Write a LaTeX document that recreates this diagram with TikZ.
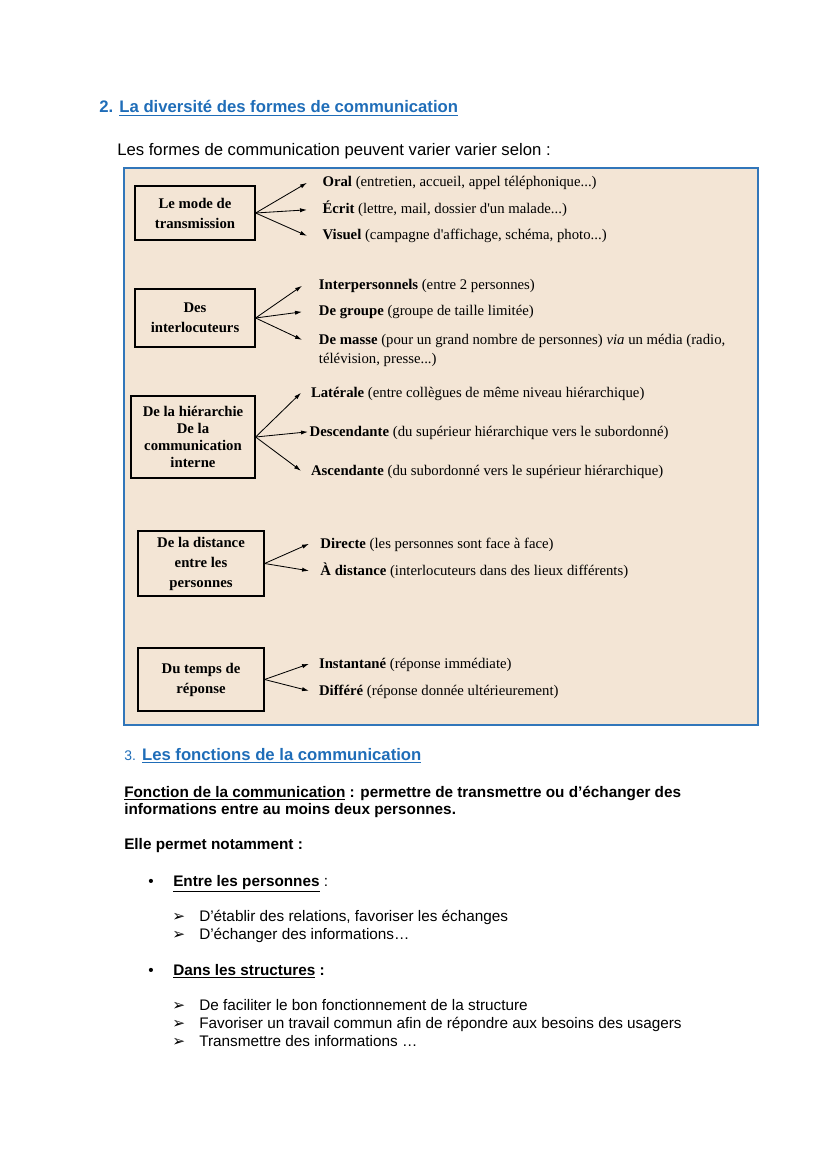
\documentclass[tikz,border=0pt]{standalone}
\usepackage{fontspec}
\setmainfont{Liberation Sans}
\newfontfamily\tnr{Liberation Serif}
\newfontfamily\dejavu{DejaVu Sans}
\usepackage{tikz}
\usetikzlibrary{arrows.meta,positioning}
\definecolor{titleblue}{HTML}{1F6DB8}
\definecolor{frameblue}{HTML}{3176BA}
\definecolor{paper}{HTML}{F3E5D5}

\begin{document}
\begin{tikzpicture}[
    % GLOBAL CFG
    x=0.7186pt, y=-0.7186pt,
    font=\fontsize{11}{13}\selectfont,
    >={Latex[length=5pt,width=3pt]},
    % Styles
    frame/.style={% For the big beige frame
        draw=frameblue,
        line width=1.4pt,
        fill=paper,
        },
    catbox/.style={% For the boxes on the left
        rectangle,
        draw,
        line width=0.9pt,
        align=center,
        inner sep=2pt,
        font=\tnr\bfseries\fontsize{10.6}{14.4}\selectfont,
        },
    item/.style={% For the texts on the right of the arrows
        anchor=base west,
        inner ysep=0pt,
        inner xsep=#1,
        font=\tnr\fontsize{10.6}{13.7}\selectfont,
        },
    body/.style={% For the text of the page
        anchor=base west,
        inner sep=0pt,
        },
    heading/.style={% For the blue titles
        anchor=base west,
        inner sep=0pt,
        text=titleblue,
        font=\bfseries\fontsize{12}{14}\selectfont,
        },
    ArrowC1/.style={% Arrows of the scheme
        ->,
        line width=0.6pt,
        },
    ]

    \useasboundingbox (0,0) rectangle (828,1171);

%Start drawing the thing...
    % Section 2
    \node[heading] (h2) at (99,113) {2. \underline{La diversité des formes de communication}};
    \node[body, font=\fontsize{12}{14}\selectfont] (intro) at (117,156) {Les formes de communication peuvent varier varier selon :};

    % The frame
    \draw[frame] (124,168) rectangle (758,725);

    % Left boxes
    \node[catbox, minimum width=86.2pt, minimum height=38.8pt] (mode) at (195,213) {Le mode de\\transmission};
    \node[catbox, minimum width=86.2pt, minimum height=41.7pt] (inter) at (195,318) {Des\\interlocuteurs};
    \node[catbox, minimum width=89.1pt, minimum height=58.9pt, font=\tnr\bfseries\fontsize{10.6}{12.2}\selectfont] (hier) at (193,437) {De la hiérarchie\\De la\\communication\\interne};
    \node[catbox, minimum width=90.5pt, minimum height=46.7pt] (dist) at (201,563.5) {De la distance\\entre les\\personnes};
    \node[catbox, minimum width=90.5pt, minimum height=45.3pt] (temps) at (201,679.5) {Du temps de\\réponse};

    % Items
    \node[item=11pt] (oral) at (307,187) {\textbf{Oral} (entretien, accueil, appel téléphonique...)};
    \node[item=11pt] (ecrit) at (307,214) {\textbf{Écrit} (lettre, mail, dossier d'un malade...)};
    \node[item=11pt] (visuel) at (307,240) {\textbf{Visuel} (campagne d'affichage, schéma, photo...)};

    \node[item=12pt] (ipers) at (302,290) {\textbf{Interpersonnels} (entre 2 personnes)};
    \node[item=12pt] (groupe) at (302,316) {\textbf{De groupe} (groupe de taille limitée)};
    \node[item=12pt] (masse) at (302,344) {\textbf{De masse} (pour un grand nombre de personnes) \textit{via} un média (radio,};
    \node[item=12pt] (masse2) at (302,363) {télévision, presse...)};

    \node[item=7pt] (lat) at (301,397) {\textbf{Latérale} (entre collègues de même niveau hiérarchique)};
    \node[item=1pt] (desc) at (308,436) {\textbf{Descendante} (du supérieur hiérarchique vers le subordonné)};
    \node[item=7pt] (asc) at (301,475) {\textbf{Ascendante} (du subordonné vers le supérieur hiérarchique)};

    \node[item=8pt] (direct) at (309,548) {\textbf{Directe} (les personnes sont face à face)};
    \node[item=8pt] (adist) at (309,575) {\textbf{À distance} (interlocuteurs dans des lieux différents)};

    \node[item=7pt] (instant) at (309,668) {\textbf{Instantané} (réponse immédiate)};
    \node[item=7pt] (differe) at (309,695) {\textbf{Différé} (réponse donnée ultérieurement)};

    % Arrows
    \foreach \a in {oral,ecrit,visuel}
        \draw[ArrowC1] (mode.east) -- ([yshift=3pt]\a.base west);
    \foreach \a in {ipers,groupe,masse}
        \draw[ArrowC1] (inter.east) -- ([yshift=3pt]\a.base west);
    \foreach \a in {lat,desc,asc}
        \draw[ArrowC1] (hier.east) -- ([yshift=3pt]\a.base west);
    \foreach \a in {direct,adist}
        \draw[ArrowC1] (dist.east) -- ([yshift=3pt]\a.base west);
    \foreach \a in {instant,differe}
        \draw[ArrowC1] (temps.east) -- ([yshift=3pt]\a.base west);

    % Section 3
    \node[heading] (h3) at (124,760) {\textmd{\fontsize{10}{12}\selectfont 3.} \underline{Les fonctions de la communication}};
    \node[body, font=\bfseries\fontsize{11}{13}\selectfont] (fonc1) at (124,797) {\underline{Fonction de la communication} : permettre de transmettre ou d'échanger des};
    \node[body, font=\bfseries\fontsize{11}{13}\selectfont] (fonc2) at (124,814) {informations entre au moins deux personnes.};
    \node[body, font=\bfseries\fontsize{11}{13}\selectfont] (elle) at (124,849) {Elle permet notamment :};

    \node[body] (b1) at (148,886) {•};
    \node[body] (pers) at (173,886) {\textbf{\underline{Entre les personnes}} :};
    \node[body] (a1) at (172,921) {\dejavu\fontsize{11}{13}\selectfont ➢};
    \node[body] (t1) at (199,921) {D'établir des relations, favoriser les échanges};
    \node[body] (a2) at (172,939) {\dejavu\fontsize{11}{13}\selectfont ➢};
    \node[body] (t2) at (199,939) {D'échanger des informations…};

    \node[body] (b2) at (148,975) {•};
    \node[body] (struct) at (173,975) {\textbf{\underline{Dans les structures} :}};
    \node[body] (a3) at (172,1010) {\dejavu\fontsize{11}{13}\selectfont ➢};
    \node[body] (t3) at (199,1010) {De faciliter le bon fonctionnement de la structure};
    \node[body] (a4) at (172,1028) {\dejavu\fontsize{11}{13}\selectfont ➢};
    \node[body] (t4) at (199,1028) {Favoriser un travail commun afin de répondre aux besoins des usagers};
    \node[body] (a5) at (172,1046) {\dejavu\fontsize{11}{13}\selectfont ➢};
    \node[body] (t5) at (199,1046) {Transmettre des informations …};
\end{tikzpicture}
\end{document}
